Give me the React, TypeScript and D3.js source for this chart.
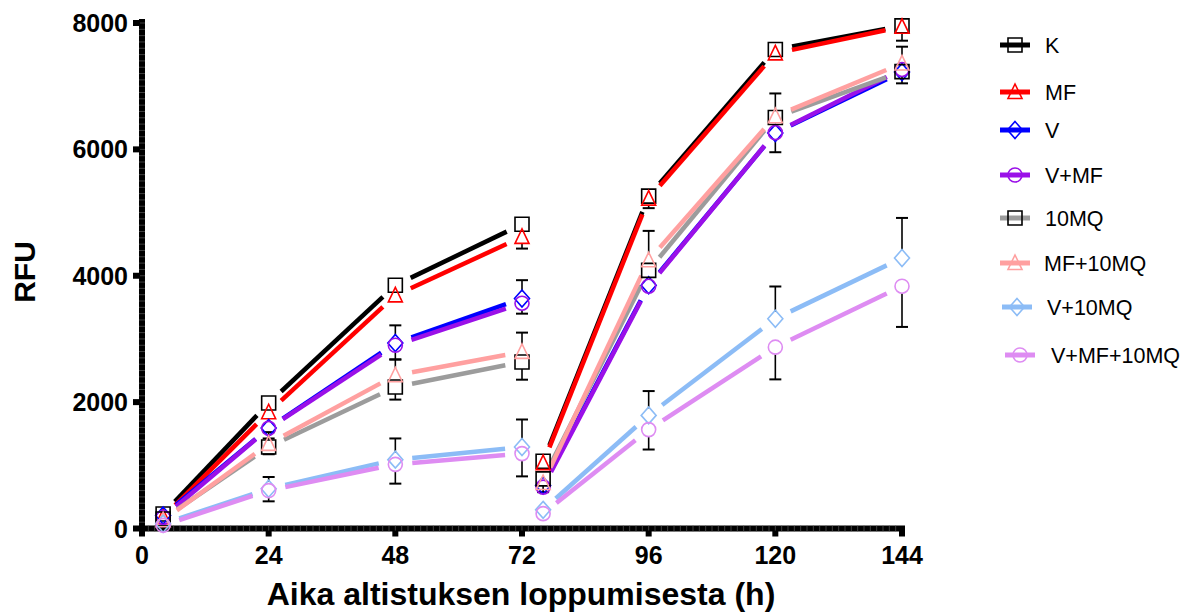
import React from 'react';
import * as d3 from 'd3';

// Sampling times (h) and which measurement phase each belongs to
const hours = [4, 24, 48, 72, 76, 96, 120, 144];
const phase = [0, 0, 0, 0, 1, 1, 1, 1];

const seriesNames = ['K', 'MF', 'V', 'V+MF', '10MQ', 'MF+10MQ', 'V+10MQ', 'V+MF+10MQ'];

// Mean RFU per series
const kValues = [230, 1985, 3850, 4815, 1065, 5260, 7580, 7955];
const mfValues = [180, 1840, 3690, 4615, 1035, 5220, 7520, 7940];
const vValues = [205, 1590, 2935, 3640, 680, 3850, 6260, 7225];
const vmfValues = [175, 1585, 2900, 3565, 655, 3835, 6265, 7265];
const mq10Values = [150, 1290, 2240, 2635, 785, 4085, 6505, 7230];
const mfmqValues = [130, 1340, 2425, 2795, 720, 4245, 6525, 7360];
const vmqValues = [75, 630, 1090, 1290, 295, 1790, 3320, 4280];
const vmfmqValues = [50, 600, 1015, 1185, 235, 1565, 2870, 3835];

// Error bar lengths (RFU); each series shows its bars on one side only
const kErr = [0, 0, 0, 0, 0, 0, 0, 0];
const mfErr = [0, 0, 0, 185, 0, 150, 0, 220];
const vErr = [0, 0, 280, 290, 0, 0, 0, 0];
const vmfErr = [0, 160, 225, 165, 0, 0, 310, 220];
const mq10Err = [0, 115, 200, 280, 210, 0, 0, 0];
const mfmqErr = [0, 185, 250, 305, 0, 465, 360, 265];
const vmqErr = [0, 185, 335, 435, 0, 385, 510, 635];
const vmfmqErr = [0, 170, 305, 360, 0, 315, 510, 645];
const errSide = [1, -1, 1, -1, -1, 1, 1, -1];

const lineColors = ['#000000', '#ff0000', '#0000ff', '#9a10e8', '#9c9c9c', '#ffa0a0', '#8cbcf6', '#de8cf2'];
const markerColors = ['#000000', '#ff0000', '#0000ff', '#9a10e8', '#000000', '#ffa0a0', '#8cbcf6', '#de8cf2'];
const markerShapes = ['square', 'triangle', 'diamond', 'circle', 'square', 'triangle', 'diamond', 'circle'];

const xTickValues = [0, 24, 48, 72, 96, 120, 144];
const yTickValues = [0, 2000, 4000, 6000, 8000];

const xTitle = 'Aika altistuksen loppumisesta (h)';
const yTitle = 'RFU';

const allValues = [kValues, mfValues, vValues, vmfValues, mq10Values, mfmqValues, vmqValues, vmfmqValues];
const allErrors = [kErr, mfErr, vErr, vmfErr, mq10Err, mfmqErr, vmqErr, vmfmqErr];

const series = seriesNames.map((name, i) => ({
  name,
  values: allValues[i],
  errors: allErrors[i],
  side: errSide[i],
  line: lineColors[i],
  marker: markerColors[i],
  shape: markerShapes[i],
}));

const W = 1189;
const H = 612;
const FONT = '"Liberation Sans", Arial, Helvetica, sans-serif';

const x = d3.scaleLinear().domain([0, 144]).range([142, 902]);
const y = d3.scaleLinear().domain([0, 8000]).range([528.5, 23]);

const GAP = 17; // lines stop short of each symbol
const MARK_R = 7;

function markerPath(shape: string, cx: number, cy: number): string {
  const p = d3.path();
  if (shape === 'square') {
    p.rect(cx - 7, cy - 7, 14, 14);
  } else if (shape === 'triangle') {
    p.moveTo(cx, cy - 8);
    p.lineTo(cx + 7, cy + 6.5);
    p.lineTo(cx - 7, cy + 6.5);
    p.closePath();
  } else if (shape === 'diamond') {
    p.moveTo(cx, cy - 8.5);
    p.lineTo(cx + 7.5, cy);
    p.lineTo(cx, cy + 8.5);
    p.lineTo(cx - 7.5, cy);
    p.closePath();
  } else {
    p.moveTo(cx + 7, cy);
    p.arc(cx, cy, 7, 0, Math.PI * 2);
  }
  return p.toString();
}

function segments(values: number[]) {
  const out: { x1: number; y1: number; x2: number; y2: number }[] = [];
  for (let i = 0; i < values.length - 1; i++) {
    if (phase[i] !== phase[i + 1]) continue;
    const ax = x(hours[i]);
    const ay = y(values[i]);
    const bx = x(hours[i + 1]);
    const by = y(values[i + 1]);
    const len = Math.hypot(bx - ax, by - ay);
    if (len <= 2 * GAP) continue;
    const ux = (bx - ax) / len;
    const uy = (by - ay) / len;
    out.push({ x1: ax + ux * GAP, y1: ay + uy * GAP, x2: bx - ux * GAP, y2: by - uy * GAP });
  }
  return out;
}

const legendRows = [45, 92, 130, 175, 218, 263, 307, 355];
const legendShift = [0, 0, 0, 0, 0, 0, 2, 5];
const legendTextX = [1045, 1045, 1045, 1045, 1045, 1044, 1047, 1051];

export default function App() {
  const xMinor = d3.range(0, 144.001, 1.2);
  const yMinor = d3.range(0, 8000.001, 100);
  const axisY = y(0);
  const axisX = x(0);

  return (
    <svg width={W} height={H} style={{ position: 'absolute', left: 0, top: 0, background: '#fff' }}>
      {/* axes */}
      <g>
        <rect x={axisX - 3} y={19} width={6} height={axisY + 3 - 19} fill="#000" />
        <rect x={axisX - 3} y={axisY - 3} width={x(144) + 3 - (axisX - 3)} height={6} fill="#000" />
        {yMinor.filter((v) => v > 0).map((v) => (
          <line key={'ym' + v} x1={axisX - 3} x2={axisX + 3} y1={y(v)} y2={y(v)} stroke="#5a5a5a" strokeWidth={0.7} />
        ))}
        {xMinor.filter((v) => v > 0 && v < 144).map((v) => (
          <line key={'xm' + v} x1={x(v)} x2={x(v)} y1={axisY - 3} y2={axisY + 3} stroke="#5a5a5a" strokeWidth={0.7} />
        ))}
        {yTickValues.map((v) => (
          <g key={'yt' + v}>
            <rect x={axisX - 9} y={y(v) - 3} width={7} height={6} fill="#000" />
            <text
              x={128}
              y={y(v)}
              dy="0.36em"
              textAnchor="end"
              fontFamily={FONT}
              fontWeight="bold"
              fontSize={25}
              fill="#000"
            >
              {v}
            </text>
          </g>
        ))}
        {xTickValues.map((v) => (
          <g key={'xt' + v}>
            <rect x={x(v) - 3} y={axisY + 2} width={6} height={6} fill="#000" />
            <text
              x={x(v)}
              y={564}
              textAnchor="middle"
              fontFamily={FONT}
              fontWeight="bold"
              fontSize={25}
              fill="#000"
            >
              {v}
            </text>
          </g>
        ))}
        <text x={521} y={605} textAnchor="middle" fontFamily={FONT} fontWeight="bold" fontSize={32} fill="#000">
          {xTitle}
        </text>
        <text
          transform={`translate(35,272) rotate(-90)`}
          textAnchor="middle"
          fontFamily={FONT}
          fontWeight="bold"
          fontSize={30}
          fill="#000"
        >
          {yTitle}
        </text>
      </g>

      {/* connecting lines */}
      <g>
        {series.map((s) =>
          segments(s.values).map((seg, j) => (
            <line
              key={s.name + 'l' + j}
              x1={seg.x1}
              y1={seg.y1}
              x2={seg.x2}
              y2={seg.y2}
              stroke={s.line}
              strokeWidth={4.5}
            />
          ))
        )}
      </g>

      {/* one-sided error bars */}
      <g>
        {series.map((s) =>
          s.values.map((v, j) => {
            const e = s.errors[j];
            if (!e) return null;
            const cy = y(v);
            const ey = y(v + s.side * e);
            if (Math.abs(ey - cy) <= MARK_R) {
              return null;
            }
            const start = cy - s.side * MARK_R;
            const cx = x(hours[j]);
            return (
              <g key={s.name + 'e' + j}>
                <line x1={cx} x2={cx} y1={start} y2={ey} stroke="#000" strokeWidth={1.6} />
                <line x1={cx - 6} x2={cx + 6} y1={ey} y2={ey} stroke="#000" strokeWidth={2} />
              </g>
            );
          })
        )}
      </g>

      {/* symbols */}
      <g>
        {series.map((s) =>
          s.values.map((v, j) => (
            <path
              key={s.name + 'm' + j}
              d={markerPath(s.shape, x(hours[j]), y(v))}
              fill="none"
              stroke={s.marker}
              strokeWidth={1.6}
            />
          ))
        )}
      </g>

      {/* legend */}
      <g>
        {series.map((s, i) => {
          const cy = legendRows[i];
          const x0 = 1000 + legendShift[i];
          return (
            <g key={s.name + 'leg'}>
              <line x1={x0} x2={x0 + 30} y1={cy} y2={cy} stroke={s.line} strokeWidth={5} />
              <path d={markerPath(s.shape, x0 + 15, cy)} fill="none" stroke={s.marker} strokeWidth={1.6} />
              <text x={legendTextX[i]} y={cy} dy="0.36em" fontFamily={FONT} fontSize={21.5} fill="#000">
                {s.name}
              </text>
            </g>
          );
        })}
      </g>
    </svg>
  );
}
